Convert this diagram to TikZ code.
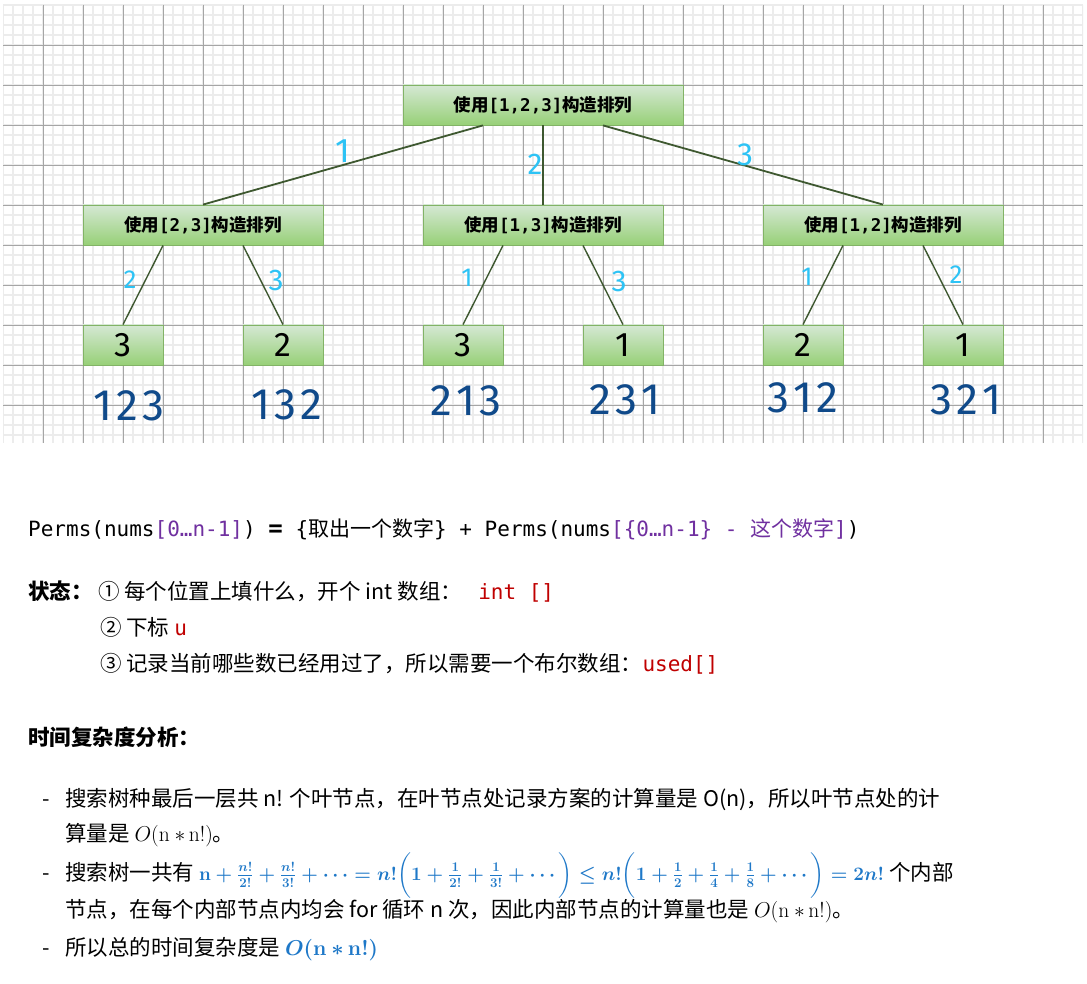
\RequirePackage{fix-cm}
\documentclass[tikz,border=0pt]{standalone}
\usepackage[no-math]{fontspec}
\usepackage{amsmath,amssymb}
\setmainfont{Noto Sans CJK SC}
\setmonofont{DejaVu Sans Mono}
\newfontfamily\cjk{Noto Sans CJK SC}
\newfontfamily\hand{Fira Sans}

\definecolor{gridmajor}{RGB}{165,165,165}
\definecolor{gridminor}{RGB}{236,236,236}
\definecolor{boxtop}{HTML}{D5E8D4}
\definecolor{boxbot}{HTML}{97D077}
\definecolor{boxline}{HTML}{82B366}
\definecolor{edgegreen}{RGB}{62,88,48}
\definecolor{penblue}{RGB}{45,195,245}
\definecolor{inkblue}{RGB}{16,74,138}
\definecolor{codepurple}{HTML}{7030A0}
\definecolor{codered}{HTML}{C00000}
\definecolor{mathblue}{RGB}{30,120,200}

\newcommand{\zh}[1]{{\cjk #1}}
\newcommand{\fs}[1]{\fontsize{#1}{#1}\selectfont}
\newcommand{\dash}{\makebox[23pt][l]{-}}

\begin{document}
\begin{tikzpicture}[x=1pt,y=-1pt,
  box/.style={draw=boxline,line width=0.8pt,top color=boxtop,bottom color=boxbot,
    minimum height=40pt,inner sep=0pt,font=\fs{17.5}\bfseries},
  wide/.style={box,minimum width=280pt},
  mid/.style={box,minimum width=240pt},
  leaf/.style={box,minimum width=80pt,font=\hand\fs{34}},
  branch/.style={draw=edgegreen,line width=1.8pt},
  twig/.style={draw=edgegreen,line width=1.4pt},
  pen/.style={text=penblue,font=\hand\fs{#1},inner sep=0pt},
  perm/.style={text=inkblue,font=\hand\fs{44},inner sep=0pt},
  txt/.style={anchor=base west,inner sep=0pt,font=\fs{21.5}}]
\useasboundingbox (0,0) rectangle (1087,984);
\fill[white] (0,0) rectangle (1087,984);

% squared paper
\begin{scope}
\clip (3,5) rectangle (1083,443);
\foreach \x in {3,13,...,1083} \draw[gridminor,line width=1.5pt] (\x,5) -- (\x,443);
\foreach \y in {5,15,...,445} \draw[gridminor,line width=1.5pt] (3,\y) -- (1083,\y);
\foreach \x in {43,83,...,1043} \draw[gridmajor,line width=0.8pt] (\x,5) -- (\x,443);
\foreach \y in {45,85,...,405} \draw[gridmajor,line width=0.8pt] (3,\y) -- (1083,\y);
\end{scope}

% search tree
\node[wide] (root) at (543,105) {使用\texttt{[1,2,3]}构造排列};
\node[mid] (a) at (203,225) {使用\texttt{[2,3]}构造排列};
\node[mid] (b) at (543,225) {使用\texttt{[1,3]}构造排列};
\node[mid] (c) at (883,225) {使用\texttt{[1,2]}构造排列};
\node[leaf] (a3) at (123,345) {3};
\node[leaf] (a2) at (283,345) {2};
\node[leaf] (b3) at (463,345) {3};
\node[leaf] (b1) at (623,345) {1};
\node[leaf] (c2) at (803,345) {2};
\node[leaf] (c1) at (963,345) {1};

\draw[branch] ([xshift=-60pt]root.south) -- (a.north);
\draw[branch] (root.south) -- (b.north);
\draw[branch] ([xshift=60pt]root.south) -- (c.north);
\draw[twig] ([xshift=-40pt]a.south) -- (a3.north);
\draw[twig] ([xshift=40pt]a.south) -- (a2.north);
\draw[twig] ([xshift=-40pt]b.south) -- (b3.north);
\draw[twig] ([xshift=40pt]b.south) -- (b1.north);
\draw[twig] ([xshift=-40pt]c.south) -- (c2.north);
\draw[twig] ([xshift=40pt]c.south) -- (c1.north);

% picked numbers
\node[pen=34] (ea) at (343,151) {1};
\node[pen=30] (eb) at (535,164) {2};
\node[pen=32] (ec) at (745,155) {3};
\node[pen=26] (ea3) at (130,280) {2};
\node[pen=30] (ea2) at (276,280) {3};
\node[pen=26] (eb3) at (467,278) {1};
\node[pen=30] (eb1) at (619,281) {3};
\node[pen=26] (ec2) at (807,277) {1};
\node[pen=26] (ec1) at (956,275) {2};

% results
\node[perm] (r1) at (129,406) {1\kern4pt2\kern4pt3};
\node[perm] (r2) at (287,405) {1\kern4pt3\kern4pt2};
\node[perm] (r3) at (466,401) {2\kern4pt1\kern4pt3};
\node[perm] (r4) at (625,400) {2\kern4pt3\kern4pt1};
\node[perm] (r5) at (803,398) {3\kern4pt1\kern4pt2};
\node[perm] (r6) at (966,400) {3\kern4pt2\kern4pt1};

% notes
\node[txt,font=\ttfamily\fs{21}] (rec) at (28,536) {Perms(nums\textcolor{codepurple}{[0…n-1]}) {\fs{24}\textbf{=}} \{\zh{取出一个数字}\} + Perms(nums\textcolor{codepurple}{[\{0…n-1\} - \zh{这个数字}]})};

\node[txt,font=\fs{21.5}\bfseries] (state) at (28,599) {状态：};
\node[txt] (s1) at (98,599) {① 每个位置上填什么，开个 int 数组：\hspace{16pt}\textcolor{codered}{\ttfamily\fs{21}int []}};
\node[txt] (s2) at (100,635) {② 下标 \textcolor{codered}{\ttfamily\fs{21}u}};
\node[txt] (s3) at (100,671) {③ 记录当前哪些数已经用过了，所以需要一个布尔数组：\textcolor{codered}{\ttfamily\fs{21}used[]}};

\node[txt,font=\fs{21.5}\bfseries] (cost) at (28,745) {时间复杂度分析：};
\node[txt] (p1) at (42,806) {\dash 搜索树种最后一层共 n! 个叶节点，在叶节点处记录方案的计算量是 O(n)，所以叶节点处的计};
\node[txt] (p1b) at (65,841) {算量是 $O(\mathrm{n}\ {\ast}\,\mathrm{n}!)$。};
\node[txt] (p2) at (42,880) {\dash 搜索树一共有 \textcolor{mathblue}{\fs{19}\boldmath$\mathbf{n}+\frac{n!}{2!}+\frac{n!}{3!}+\cdots=n!\biggl(1+\frac{1}{2!}+\frac{1}{3!}+\cdots\biggr)\le n!\biggl(1+\frac{1}{2}+\frac{1}{4}+\frac{1}{8}+\cdots\biggr)=2n!$} 个内部};
\node[txt] (p2b) at (65,917) {节点，在每个内部节点内均会 for 循环 n 次，因此内部节点的计算量也是 $O(\mathrm{n}\ {\ast}\,\mathrm{n}!)$。};
\node[txt] (p3) at (42,955) {\dash 所以总的时间复杂度是 \textcolor{mathblue}{\boldmath$O(\mathbf{n}\ {\ast}\,\mathbf{n}!)$}};
\end{tikzpicture}
\end{document}
